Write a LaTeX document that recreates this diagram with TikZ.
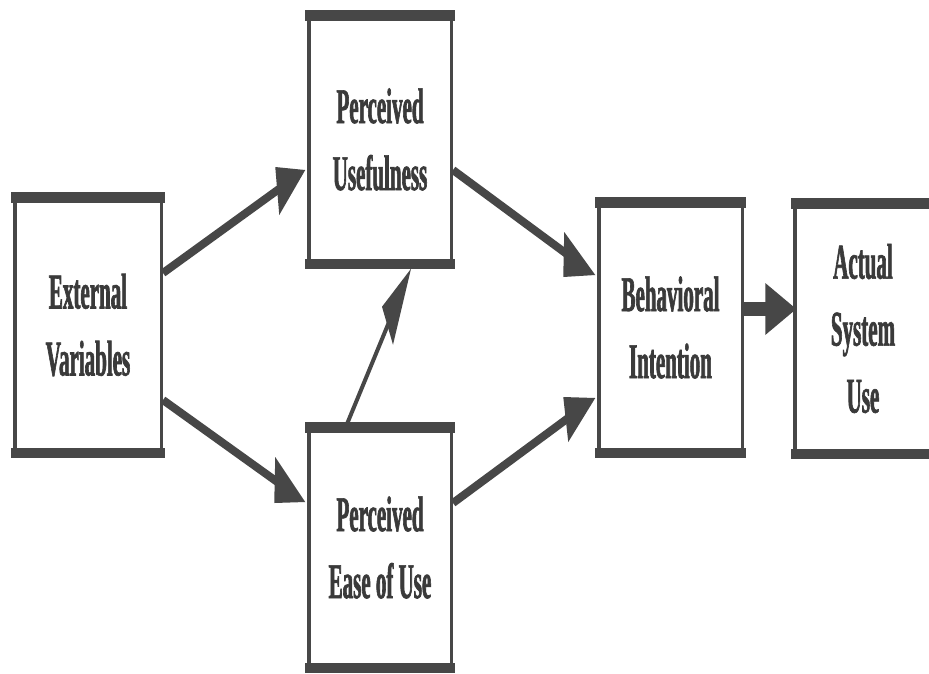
\documentclass[tikz,border=0pt]{standalone}
\usepackage{fontspec}
\setmainfont{Liberation Serif}
\newfontfamily\boxfont[FakeStretch=0.42,BoldFeatures={FakeBold=1.2}]{Liberation Serif}
\usetikzlibrary{calc}
\definecolor{ink}{HTML}{474747}
\definecolor{txt}{HTML}{3A3A3A}
\begin{document}
\begin{tikzpicture}[x=1pt,y=-1pt,
  tamb/.style={draw=ink, line width=3.5pt, inner sep=0pt, align=center,
    font={\boxfont\bfseries\fontsize{50}{67}\selectfont}, text=txt},
  conn/.style={draw=ink, line width=8pt},
  thinconn/.style={draw=ink, line width=4pt},
  headfill/.style={fill=ink}]
\useasboundingbox (0,0) rectangle (929,673);
\fill[white] (0,0) rectangle (929,673);
\clip (0,0) rectangle (929,673);

% boxes
\node[tamb, minimum width=146.5pt, minimum height=258.5pt] (ev) at (88,325) {External\\Variables};
\node[tamb, minimum width=142.5pt, minimum height=251.5pt] (pu) at (380,139.5) {Perceived\\Usefulness};
\node[tamb, minimum width=142.5pt, minimum height=243.5pt] (peu) at (380,547.5) {Perceived\\Ease of Use};
\node[tamb, minimum width=143.5pt, minimum height=253.5pt] (bi) at (670.5,327.5) {Behavioral\\Intention};
\node[tamb, minimum width=136.5pt, minimum height=253.5pt] (asu) at (863,328.5) {Actual\\System\\Use};

% thick top and bottom borders
\foreach \n in {ev,pu,peu,bi,asu}{
  \fill[ink] ($(\n.north west)+(-1.75,-1.75)$) rectangle ($(\n.north east)+(1.75,8.5)$);
  \fill[ink] ($(\n.south west)+(-1.75,1.75)$) rectangle ($(\n.south east)+(1.75,-8.5)$);
}

% External Variables -> Perceived Usefulness
\coordinate (a1s) at ($(ev.east)+(0,-52)$);
\coordinate (a1t) at ($(pu.west)+(-1.75,30.5)$);
\draw[conn] (a1s) -- ($(a1s)!0.85!(a1t)$);
\fill[headfill] ($(a1t)+(-30,-3)$) -- (a1t) -- ($(a1t)+(-26,45)$) -- cycle;

% External Variables -> Perceived Ease of Use
\coordinate (a2s) at ($(ev.east)+(0,75)$);
\coordinate (a2t) at ($(peu.west)+(-1.75,-45.5)$);
\draw[conn] (a2s) -- ($(a2s)!0.85!(a2t)$);
\fill[headfill] ($(a2t)+(-30,-45)$) -- (a2t) -- ($(a2t)+(-31,1)$) -- cycle;

% Perceived Usefulness -> Behavioral Intention
\coordinate (a3s) at ($(pu.east)+(0,30.5)$);
\coordinate (a3t) at ($(bi.west)+(-1.75,-52.5)$);
\draw[conn] (a3s) -- ($(a3s)!0.85!(a3t)$);
\fill[headfill] ($(a3t)+(-31,-43)$) -- (a3t) -- ($(a3t)+(-32,2)$) -- cycle;

% Perceived Ease of Use -> Behavioral Intention
\coordinate (a4s) at ($(peu.east)+(0,-44.5)$);
\coordinate (a4t) at ($(bi.west)+(-1.75,70.5)$);
\draw[conn] (a4s) -- ($(a4s)!0.85!(a4t)$);
\fill[headfill] ($(a4t)+(-32,-1)$) -- (a4t) -- ($(a4t)+(-27,44)$) -- cycle;

% Perceived Ease of Use -> Perceived Usefulness
\coordinate (a5s) at ($(peu.north)+(-33,0)$);
\coordinate (a5t) at ($(pu.south)+(31,1.75)$);
\draw[thinconn] (a5s) -- ($(a5s)!0.70!(a5t)$);
\fill[headfill] ($(a5t)+(-29,38)$) -- (a5t) -- ($(a5t)+(-18,76)$) -- cycle;

% Behavioral Intention -> Actual System Use
\coordinate (a6s) at ($(bi.east)+(0,-18.5)$);
\coordinate (a6t) at ($(asu.west)+(3.25,-19.5)$);
\draw[draw=ink, line width=14pt] (a6s) -- ($(a6t)+(-23,0)$);
\fill[headfill] ($(a6t)+(-31,-26)$) -- (a6t) -- ($(a6t)+(-31,26)$) -- cycle;
\end{tikzpicture}
\end{document}
